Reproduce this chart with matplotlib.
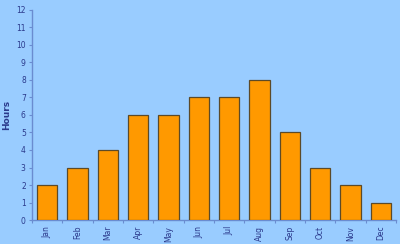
import matplotlib

matplotlib.use("Agg")
import matplotlib.pyplot as plt

months = ["Jan", "Feb", "Mar", "Apr", "May", "Jun",
          "Jul", "Aug", "Sep", "Oct", "Nov", "Dec"]
hours = [2, 3, 4, 6, 6, 7, 7, 8, 5, 3, 2, 1]
y_ticks = list(range(0, 13))

BG = "#99ccff"
AXIS = "#6a8cd0"
TEXT = "#2b3a8c"

fig = plt.figure(figsize=(4.0, 2.44), dpi=100, facecolor=BG)
ax = fig.add_axes([0.08, 0.098, 0.91, 0.862], facecolor=BG)

x = range(len(months))
ax.bar(x, hours, width=0.66, color="#ff9900", edgecolor="#5c4a28", lw=0.9, zorder=3)

ax.set_xlim(-0.5, len(months) - 0.5)
ax.set_ylim(0, 12)
ax.set_yticks(y_ticks, [str(v) for v in y_ticks], fontsize=5.5, color=TEXT)
ax.set_xticks(list(x), months, fontsize=5.5, color=TEXT, rotation=90)
ax.set_xticks([i - 0.5 for i in range(len(months) + 1)], minor=True)
ax.tick_params(axis="x", which="major", length=0, pad=4)
ax.tick_params(axis="x", which="minor", length=2.5, color=AXIS, width=0.8)
ax.tick_params(axis="y", length=2.5, color=AXIS, width=0.8, pad=2)

for side in ("top", "right"):
    ax.spines[side].set_visible(False)
for side in ("left", "bottom"):
    ax.spines[side].set_color(AXIS)
    ax.spines[side].set_linewidth(1.0)

ax.set_ylabel("Hours", fontsize=6.5, fontweight="bold", color=TEXT)
ax.yaxis.set_label_coords(-0.058, 0.5)

fig.savefig("out.png", dpi=100, facecolor=BG)
